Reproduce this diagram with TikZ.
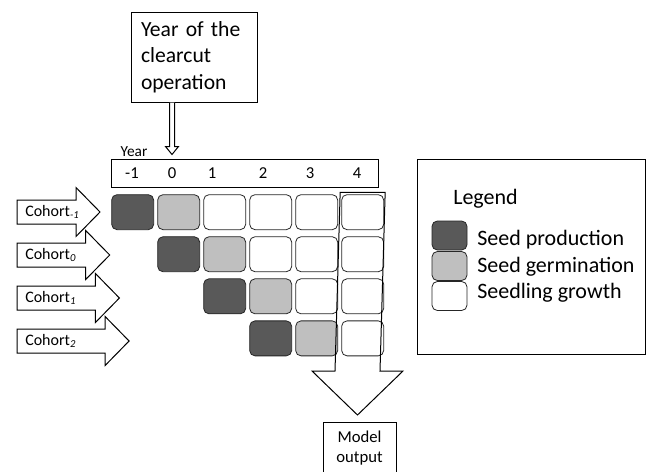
\documentclass[tikz,border=0pt]{standalone}
\usepackage{fontspec}
\setmainfont{Carlito}
\usepackage{tikz}
\usetikzlibrary{positioning, matrix, calc}
\definecolor{SeedDark}{HTML}{595959}
\definecolor{SeedLight}{HTML}{BFBFBF}
\tikzset{
	cell/.style={draw=black!85, rounded corners=4pt, minimum width=31.5pt, minimum height=26.25pt, inner sep=0pt, line width=0.6pt},
	seedprod/.style={cell, fill=SeedDark},
	seedgerm/.style={cell, fill=SeedLight},
	seedgrow/.style={cell, fill=white},
	key/.style={minimum width=26.25pt, minimum height=21.75pt},
	hollow/.style={draw, line width=0.75pt, line join=miter},
	bigtext/.style={font=\fontsize{16.5}{20}\selectfont, inner sep=0pt},
	smalltext/.style={font=\fontsize{11.5}{14}\selectfont, inner sep=0pt},
}

\begin{document}
\begin{tikzpicture}[x=0.75pt, y=-0.75pt]
	\useasboundingbox (0,0) rectangle (649,471);
	\clip (0,0) rectangle (649,471);

	\node[draw, line width=0.75pt, align=left, text width=79.5pt, inner xsep=7.5pt, minimum height=67.5pt, font=\fontsize{16.2}{20}\selectfont] (clearcut) at (194,57) {Year of the\\clearcut\\operation};

	% year axis
	\node[draw, line width=0.75pt, minimum width=200.25pt, minimum height=21pt, inner sep=0pt] (yearbar) at (244.5,173) {};
	\node[smalltext] (yearname) at (134,152) {Year};
	\foreach \yr/\xx in {-1/132, 0/172, 1/212, 2/263, 3/310, 4/357}
		\node[smalltext, font=\fontsize{12.5}{14}\selectfont] (yr\yr) at (\xx,173) {\yr};

	\coordinate (cuttop) at ($(clearcut.south west)+(41.5,0)$);
	\coordinate (cuttip) at ($(yearbar.north west)+(61.5,-4)$);
	\draw[hollow, fill=white] ($(cuttop)+(-2.5,0)$) -- ($(cuttip)+(-2.5,-8)$) -- ($(cuttip)+(-6.5,-8)$) -- (cuttip)
		-- ($(cuttip)+(6.5,-8)$) -- ($(cuttip)+(2.5,-8)$) -- ($(cuttop)+(2.5,0)$);

	% one row per cohort
	\matrix[%
		matrix of nodes, ampersand replacement=\&,
		nodes={cell},
		column sep=2.4pt, row sep=4.7pt,
		inner sep=0pt, anchor=north west,
		] (cells) at (111,194)
	{
		|[seedprod]|{} \& |[seedgerm]|{} \& |[seedgrow]|{} \& |[seedgrow]|{} \& |[seedgrow]|{} \& |[seedgrow]|{} \\
		\& |[seedprod]|{} \& |[seedgerm]|{} \& |[seedgrow]|{} \& |[seedgrow]|{} \& |[seedgrow]|{} \\
		\& \& |[seedprod]|{} \& |[seedgerm]|{} \& |[seedgrow]|{} \& |[seedgrow]|{} \\
		\& \& \& |[seedprod]|{} \& |[seedgerm]|{} \& |[seedgrow]|{} \\
	};

	\foreach \i/\sub in {0/{-1}, 1/0, 2/1, 3/2} {
		\pgfmathsetmacro\yc{212+43*\i}
		\pgfmathsetmacro\tip{100+9.7*\i}
		\draw[hollow, fill=white] (17,\yc-12) -- (\tip-24,\yc-12) -- (\tip-24,\yc-24.5) -- (\tip,\yc)
			-- (\tip-24,\yc+24.5) -- (\tip-24,\yc+12) -- (17,\yc+12) -- cycle;
		\node[font=\fontsize{12}{14}\selectfont, inner sep=0pt, anchor=west] (cohort\i) at (25,\yc) {Cohort\textsubscript{\textit{\sub}}};
	}

	% output taken from the last year
	\node[draw, line width=0.75pt, align=center, minimum width=54.75pt, minimum height=39pt, anchor=north, font=\fontsize{12.5}{15}\selectfont] (output) at (359.5,422) {Model\\output};
	\coordinate (outtop) at ($(cells-1-6.north)+(0,-2)$);
	\coordinate (outtip) at ($(output.north)+(-2,-7)$);
	\draw[hollow] ($(outtop)+(-22.5,0)$) -- ($(outtip)+(-22.5,-44)$) -- ($(outtip)+(-45.5,-44)$) -- (outtip)
		-- ($(outtip)+(45.5,-44)$) -- ($(outtip)+(22.5,-44)$) -- ($(outtop)+(22.5,0)$) -- cycle;

	% legend
	\node[draw, line width=0.75pt, minimum width=171pt, minimum height=146.25pt] (legend) at (531,256.5) {};
	\node[bigtext, anchor=west] (legendtitle) at (453,199) {Legend};
	\node[seedprod, key] (keyprod) at (449.5,235.5) {};
	\node[seedgerm, key] (keygerm) at (449.5,266) {};
	\node[seedgrow, key] (keygrow) at (449.5,296) {};
	\node[bigtext, anchor=west] (txtprod) at (477,240) {Seed production};
	\node[bigtext, anchor=west] (txtgerm) at (477,267) {Seed germination};
	\node[bigtext, anchor=west] (txtgrow) at (477,293) {Seedling growth};
\end{tikzpicture}
\end{document}
